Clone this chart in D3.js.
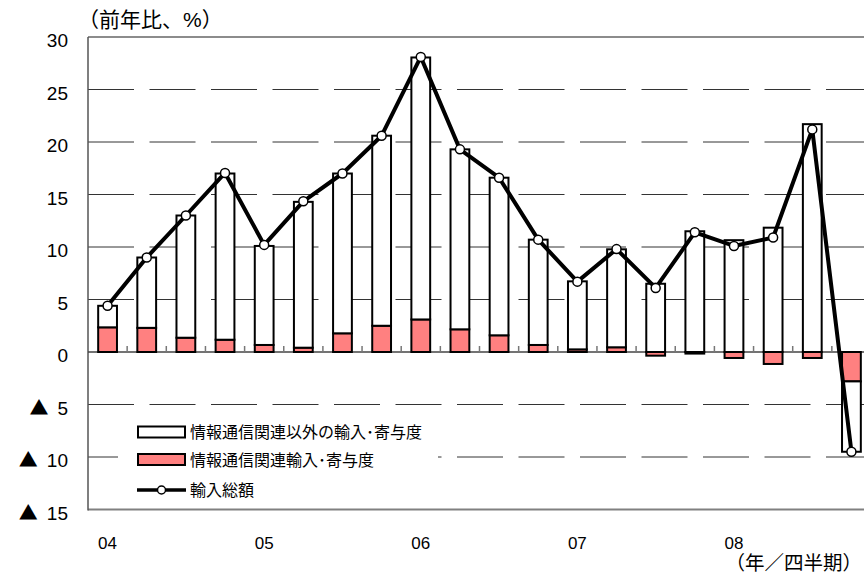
<!DOCTYPE html>
<html>
<head>
<meta charset="utf-8">
<script src="https://cdn.jsdelivr.net/npm/d3@7"></script>
<style>
	body { margin: 0; background: #fff; }
	svg { display: block; font-family: "Liberation Sans", "Noto Sans CJK JP", sans-serif; }
</style>
</head>
<body>
<svg id="svg_chart" width="864" height="573"></svg>
<script>
// quarters 2004Q1 - 2008Q4
var quarters = ["04Q1", "04Q2", "04Q3", "04Q4", "05Q1", "05Q2", "05Q3", "05Q4",
	"06Q1", "06Q2", "06Q3", "06Q4", "07Q1", "07Q2", "07Q3", "07Q4",
	"08Q1", "08Q2", "08Q3", "08Q4"];
var yearLabels = ["04", "05", "06", "07", "08"];

// 情報通信関連輸入・寄与度
var infoComm = [2.35, 2.3, 1.36, 1.17, 0.67, 0.41, 1.78, 2.5, 3.1, 2.16,
	1.59, 0.67, 0.25, 0.45, -0.35, -0.15, -0.57, -1.14, -0.57, -2.8];
// 情報通信関連以外の輸入・寄与度
var otherImports = [2.05, 6.7, 11.64, 15.83, 9.43, 13.89, 15.22, 18.1, 24.95, 17.14,
	15.01, 10.03, 6.48, 9.33, 6.5, 11.5, 10.65, 11.84, 21.7, -6.7];
// 輸入総額
var totalImports = [4.4, 9.0, 13.0, 17.05, 10.2, 14.35, 17.0, 20.6, 28.1, 19.3,
	16.6, 10.7, 6.7, 9.8, 6.1, 11.4, 10.1, 10.9, 21.2, -9.5];

var yTicks = [30, 25, 20, 15, 10, 5, 0, -5, -10, -15];

function renderChart() {
	var svg = d3.select("#svg_chart"),
		margin = {left: 88, top: 37, bottom: 509.5},
		plotRight = 88 + 20 * 39.15;

	var x = d3.scaleBand()
		.domain(quarters)
		.range([margin.left, plotRight])
		.paddingInner(0.52)
		.paddingOuter(0.26);
	var y = d3.scaleLinear()
		.domain([-15, 30])
		.range([margin.bottom, margin.top]);

	// grid lines
	var g_grid = svg.append("g").attr("id", "grid");
	g_grid.selectAll("line")
		.data(yTicks.filter(function(d) { return d != 0 && d != 30 && d != -15; }))
		.enter().append("line")
		.attr("x1", margin.left).attr("x2", 864)
		.attr("y1", function(d) { return y(d); })
		.attr("y2", function(d) { return y(d); })
		.attr("stroke", "#333")
		.attr("stroke-width", 1)
		.attr("stroke-dasharray", "46,15.5");

	// legend background hides the grid
	svg.append("rect")
		.attr("x", 118).attr("y", 412)
		.attr("width", 320).attr("height", 92)
		.attr("fill", "#fff");

	// frame
	svg.append("line")
		.attr("x1", margin.left).attr("x2", 864)
		.attr("y1", y(30)).attr("y2", y(30))
		.attr("stroke", "#8c8c8c").attr("stroke-width", 2);
	svg.append("line")
		.attr("x1", margin.left).attr("x2", 864)
		.attr("y1", y(-15)).attr("y2", y(-15))
		.attr("stroke", "#808080").attr("stroke-width", 2);
	svg.append("line")
		.attr("x1", margin.left).attr("x2", margin.left)
		.attr("y1", y(30)).attr("y2", y(-15) + 1)
		.attr("stroke", "#555").attr("stroke-width", 1.5);

	// zero line and quarter ticks
	svg.append("line")
		.attr("x1", margin.left).attr("x2", 864)
		.attr("y1", y(0)).attr("y2", y(0))
		.attr("stroke", "#444").attr("stroke-width", 1.5);
	svg.append("g").selectAll("line")
		.data(quarters.slice(1))
		.enter().append("line")
		.attr("x1", function(d) { return x(d) - x.step() * x.paddingInner() / 2; })
		.attr("x2", function(d) { return x(d) - x.step() * x.paddingInner() / 2; })
		.attr("y1", y(0) - 6).attr("y2", y(0))
		.attr("stroke", "#777").attr("stroke-width", 1.5);

	// stacked bars
	var rows = quarters.map(function(q, i) {
		return {"q": q, "info": infoComm[i], "other": otherImports[i]};
	});
	var series = d3.stack()
		.keys(["info", "other"])
		.offset(d3.stackOffsetDiverging)(rows);
	var colors = {"info": "#ff8080", "other": "#ffffff"};

	var g_bar = svg.append("g").attr("id", "bars");
	series.forEach(function(s) {
		g_bar.append("g").selectAll("rect")
			.data(s)
			.enter().append("rect")
			.attr("x", function(d) { return x(d.data.q); })
			.attr("width", x.bandwidth())
			.attr("y", function(d) { return y(Math.max(d[0], d[1])); })
			.attr("height", function(d) { return Math.abs(y(d[0]) - y(d[1])); })
			.attr("fill", colors[s.key])
			.attr("stroke", "#000")
			.attr("stroke-width", 2);
	});

	// total line
	var line = d3.line()
		.x(function(d, i) { return x(quarters[i]) + x.bandwidth() / 2; })
		.y(function(d) { return y(d); });
	svg.append("path")
		.attr("d", line(totalImports))
		.attr("fill", "none")
		.attr("stroke", "#000")
		.attr("stroke-width", 4)
		.attr("stroke-linejoin", "round");
	svg.append("g").selectAll("circle")
		.data(totalImports)
		.enter().append("circle")
		.attr("cx", function(d, i) { return x(quarters[i]) + x.bandwidth() / 2; })
		.attr("cy", function(d) { return y(d); })
		.attr("r", 4.5)
		.attr("fill", "#fff")
		.attr("stroke", "#000")
		.attr("stroke-width", 1.5);

	// y labels, negatives marked with a triangle
	var yLab = svg.append("g").selectAll("text")
		.data(yTicks)
		.enter().append("text")
		.attr("x", 68)
		.attr("y", function(d) { return y(d) + 10; })
		.attr("text-anchor", "end")
		.attr("font-size", 19);
	yLab.filter(function(d) { return d < 0; })
		.append("tspan")
		.attr("font-family", "Noto Sans CJK JP")
		.attr("font-size", 19)
		.text("▲");
	yLab.append("tspan")
		.attr("dx", function(d) { return d < 0 ? 9 : 0; })
		.text(function(d) { return Math.abs(d); });

	// x labels (year at Q1)
	svg.append("g").selectAll("text")
		.data(yearLabels)
		.enter().append("text")
		.attr("x", function(d) { return x(d + "Q1") + x.bandwidth() / 2; })
		.attr("y", 549)
		.attr("text-anchor", "middle")
		.attr("font-size", 17)
		.text(function(d) { return d; });

	svg.append("text")
		.attr("x", 78).attr("y", 27)
		.attr("font-size", 21)
		.text("（前年比、%）");
	svg.append("text")
		.attr("x", 862).attr("y", 570)
		.attr("text-anchor", "end")
		.attr("font-size", 19.5)
		.text("（年／四半期）");

	// legend
	var g_legend = svg.append("g").attr("id", "legend");
	var legendItems = [
		{"name": "情報通信関連以外の輸入･寄与度", "type": "rect", "color": "#ffffff", "y": 432},
		{"name": "情報通信関連輸入･寄与度", "type": "rect", "color": "#ff8080", "y": 459.5},
		{"name": "輸入総額", "type": "line", "y": 490}
	];
	legendItems.forEach(function(d) {
		if (d.type == "rect") {
			g_legend.append("rect")
				.attr("x", 138).attr("y", d.y - 5.5)
				.attr("width", 47).attr("height", 11)
				.attr("fill", d.color)
				.attr("stroke", "#000")
				.attr("stroke-width", 2);
		} else {
			g_legend.append("line")
				.attr("x1", 137).attr("x2", 186)
				.attr("y1", d.y).attr("y2", d.y)
				.attr("stroke", "#000").attr("stroke-width", 3.5);
			g_legend.append("circle")
				.attr("cx", 161.5).attr("cy", d.y).attr("r", 4)
				.attr("fill", "#fff").attr("stroke", "#000").attr("stroke-width", 1.5);
		}
		g_legend.append("text")
			.attr("x", 190).attr("y", d.y + 6)
			.attr("font-size", 16)
			.text(d.name);
	});
}

renderChart();
</script>
</body>
</html>
